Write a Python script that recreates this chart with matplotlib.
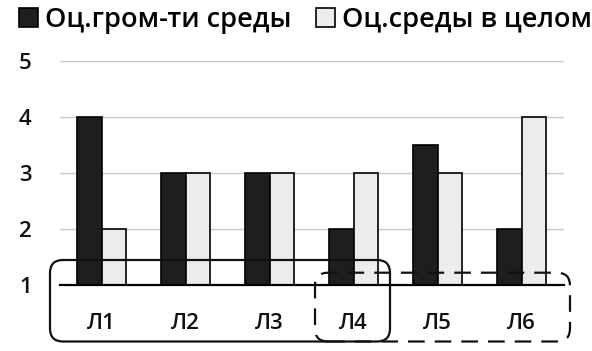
import matplotlib
matplotlib.use("Agg")
import matplotlib.pyplot as plt
import numpy as np
from matplotlib.patches import FancyBboxPatch, Patch

categories = ["Л1", "Л2", "Л3", "Л4", "Л5", "Л6"]
series1_name = "Оц.гром-ти среды"
series2_name = "Оц.среды в целом"
series1 = [4, 3, 3, 2, 3.5, 2]
series2 = [2, 3, 3, 3, 3, 4]
yticks = [1, 2, 3, 4, 5]

plt.rcParams['font.family'] = ['Open Sans', 'DejaVu Sans']
plt.rcParams['font.weight'] = 'semibold'

fig = plt.figure(figsize=(5.92, 3.51), dpi=100)
ax = fig.add_axes([59.5/592, (351-285)/351, (563.5-59.5)/592, (285-61)/351])

x = np.arange(len(categories))
w = 0.286
c1 = '#1e1e1e'
c2 = '#ececec'
ax.bar(x - w/2, np.array(series1) - 1, w, bottom=1, color=c1, edgecolor='black', linewidth=1.2, zorder=3)
ax.bar(x + w/2, np.array(series2) - 1, w, bottom=1, color=c2, edgecolor='black', linewidth=1.2, zorder=3)

ax.set_xlim(-0.5, len(categories) - 0.5)
ax.set_ylim(1, 5)
ax.set_yticks(yticks)
ax.set_xticks(x)
ax.set_xticklabels(categories)
ax.yaxis.grid(True, color='#c8c8c8', linewidth=1.0, zorder=0)
ax.set_axisbelow(True)
for s in ['top', 'right', 'left']:
    ax.spines[s].set_visible(False)
ax.spines['bottom'].set_linewidth(1.6)
ax.spines['bottom'].set_color('black')
ax.spines['bottom'].set_zorder(4)
ax.tick_params(axis='both', length=0, labelsize=16, colors='#111111')
ax.tick_params(axis='x', pad=20)
ax.tick_params(axis='y', pad=20)

# rounded grouping boxes (annotation in inches)
t = fig.dpi_scale_trans
r1 = FancyBboxPatch((0.50, 0.095), 3.40, 0.815, boxstyle="round,pad=0,rounding_size=0.13",
                    transform=t, fill=False, edgecolor='#111111', linewidth=1.6, clip_on=False, zorder=5)
r2 = FancyBboxPatch((3.15, 0.095), 2.55, 0.688, boxstyle="round,pad=0,rounding_size=0.13",
                    transform=t, fill=False, edgecolor='#111111', linewidth=1.6, linestyle=(0, (7.5, 4.5)),
                    clip_on=False, zorder=5)
fig.add_artist(r1)
fig.add_artist(r2)

handles = [Patch(facecolor=c1, edgecolor='black', linewidth=1.2, label=series1_name),
           Patch(facecolor=c2, edgecolor='black', linewidth=1.2, label=series2_name)]
fig.legend(handles=handles, loc='upper left', bbox_to_anchor=(0.005, 1.03), ncol=2, frameon=False,
           fontsize=19.5, handlelength=0.7, handleheight=0.7, handletextpad=0.25, columnspacing=0.9,
           borderaxespad=0.2)

fig.savefig("out.png", dpi=100, facecolor='white')
